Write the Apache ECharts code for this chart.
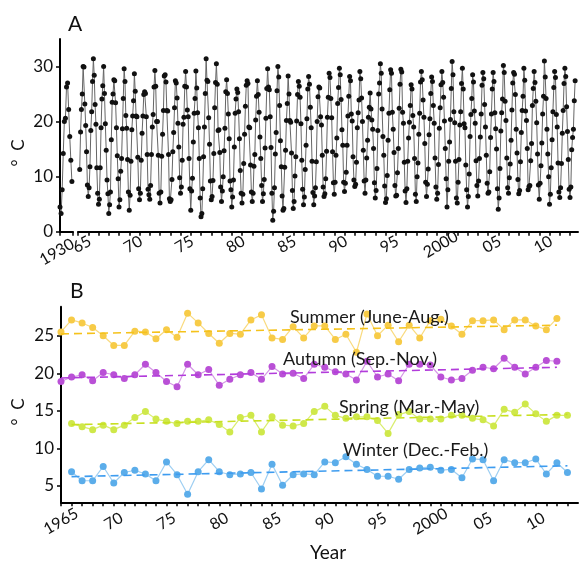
<!DOCTYPE html>
<html><head><meta charset="utf-8">
<script src="https://cdn.jsdelivr.net/npm/echarts@6/dist/echarts.min.js"></script>
<style>html,body{margin:0;padding:0;background:#fff}#c{width:581px;height:563px}</style>
</head><body><div id="c"></div>
<script>
// ---------- Panel A: monthly mean temperature ----------
const monthly1930Year = 1930;
const monthly1930 = [4.5, 3.3, 7.6, 14.2, 20.0, 20.6, 26.3, 27.0, 22.2, 17.3, 13.0, 9.1];

const monthlyStartYear = 1965;
const monthlyStartMonth = 3; // March 1965
const monthlyTemp = [
  11.3, 18.1, 22.2, 25.0, 30.0, 29.9, 23.2, 19.3, 14.5, 8.5,
  6.4, 8.0, 11.8, 18.4, 21.8, 27.3, 31.4, 28.4, 23.1, 19.5, 11.6, 7.0,
  5.0, 5.9, 11.6, 18.9, 24.1, 26.5, 30.0, 25.1, 19.6, 14.8, 9.4, 6.9,
  3.3, 4.9, 7.2, 16.7, 23.5, 25.0, 27.6, 27.4, 23.4, 18.9, 13.8, 9.6,
  4.5, 5.8, 11.0, 13.3, 18.7, 24.2, 29.6, 27.3, 21.1, 18.8, 13.1, 7.2,
  3.9, 6.6, 12.8, 18.5, 21.0, 23.8, 28.7, 25.5, 21.0, 20.9, 13.5, 7.8,
  5.8, 7.0, 13.0, 17.9, 21.0, 24.9, 25.4, 25.1, 20.9, 14.0, 7.7, 6.7,
  5.9, 8.4, 14.0, 19.0, 21.3, 26.3, 29.3, 26.4, 20.0, 20.0, 13.9, 7.0,
  5.2, 7.2, 13.7, 17.7, 22.0, 28.3, 28.5, 27.2, 22.0, 21.9, 14.0, 6.0,
  5.5, 5.8, 9.5, 14.5, 18.0, 22.5, 27.4, 27.0, 24.3, 19.7, 15.4, 9.8,
  7.0, 8.1, 13.0, 19.5, 20.8, 26.4, 29.1, 26.3, 22.1, 20.9, 13.3, 7.8,
  3.9, 7.4, 9.7, 16.3, 21.5, 24.2, 29.2, 26.1, 21.6, 18.9, 13.3, 6.1,
  2.7, 3.3, 7.8, 13.6, 19.0, 25.1, 31.4, 27.5, 27.3, 20.7, 15.9, 9.2,
  5.8, 6.4, 9.3, 14.2, 22.5, 27.1, 30.5, 26.8, 18.4, 18.5, 14.4, 8.1,
  5.5, 7.4, 10.0, 14.7, 18.8, 25.4, 27.6, 25.1, 21.4, 16.9, 9.2, 7.6,
  4.5, 6.3, 9.4, 15.4, 21.5, 24.1, 25.9, 25.3, 21.8, 16.9, 11.1, 7.0,
  5.2, 6.8, 12.4, 17.7, 22.8, 26.6, 27.4, 26.9, 19.0, 18.9, 12.1, 7.2,
  5.5, 7.0, 11.9, 14.0, 20.3, 24.6, 27.4, 24.9, 21.7, 17.2, 13.3, 8.4,
  5.5, 6.9, 9.5, 15.2, 20.6, 26.0, 29.6, 26.3, 25.8, 20.9, 15.3, 7.0,
  2.1, 3.7, 8.0, 14.1, 18.0, 25.6, 30.0, 28.1, 22.9, 16.5, 11.8, 6.5,
  3.9, 4.2, 11.7, 14.8, 20.2, 23.3, 28.3, 25.0, 20.2, 19.9, 14.3, 7.5,
  4.2, 5.5, 10.1, 13.6, 20.1, 24.9, 27.3, 26.4, 24.4, 19.6, 13.0, 7.7,
  4.9, 6.3, 11.3, 15.7, 20.5, 25.9, 28.2, 26.8, 22.6, 18.9, 12.8, 7.1,
  4.9, 6.5, 8.0, 12.7, 20.0, 24.5, 26.3, 26.1, 20.9, 19.4, 13.9, 8.1,
  6.4, 6.9, 9.6, 14.6, 20.8, 24.4, 28.8, 28.0, 24.2, 20.7, 14.5, 8.9,
  6.8, 9.0, 13.9, 17.0, 23.3, 26.2, 29.7, 28.5, 24.0, 18.5, 15.7, 9.0,
  7.3, 8.8, 10.8, 15.7, 21.0, 24.6, 28.2, 27.4, 21.4, 20.1, 13.6, 9.4,
  8.2, 8.6, 12.6, 18.9, 21.6, 23.9, 29.1, 27.8, 24.3, 20.0, 14.8, 9.2,
  7.0, 9.4, 13.4, 16.6, 20.8, 22.6, 25.2, 22.3, 20.3, 18.6, 15.1, 8.9,
  6.1, 7.5, 11.5, 18.4, 25.0, 27.0, 30.5, 28.8, 22.3, 17.3, 13.9, 8.3,
  5.3, 6.0, 10.2, 16.6, 21.5, 25.8, 29.4, 28.8, 21.7, 18.6, 14.4, 8.4,
  6.5, 6.6, 10.7, 15.1, 22.4, 26.8, 29.5, 29.0, 21.7, 19.7, 12.6, 7.4,
  5.3, 7.8, 12.8, 17.0, 19.9, 22.9, 26.7, 25.9, 21.1, 19.0, 13.3, 6.8,
  5.5, 10.0, 12.5, 17.7, 21.5, 27.2, 29.1, 27.6, 23.9, 20.8, 16.0, 9.0,
  6.4, 8.6, 11.4, 17.6, 20.5, 25.1, 28.1, 27.3, 22.9, 19.7, 13.4, 8.1,
  5.9, 7.0, 12.2, 18.8, 22.5, 26.7, 29.1, 27.1, 24.4, 20.1, 15.1, 9.6,
  4.5, 7.6, 12.8, 16.3, 20.4, 26.0, 30.9, 28.5, 21.8, 19.8, 12.8, 6.1,
  5.2, 9.0, 13.1, 19.4, 21.8, 26.9, 29.7, 25.9, 19.6, 18.9, 12.1, 7.6,
  4.5, 6.4, 10.5, 17.3, 21.3, 24.2, 28.5, 27.2, 21.9, 19.7, 12.9, 8.4,
  6.5, 9.2, 13.3, 17.2, 21.4, 26.6, 28.9, 27.8, 23.1, 19.0, 13.9, 8.8,
  7.0, 7.2, 10.9, 17.1, 21.4, 25.9, 28.9, 27.3, 21.6, 18.7, 15.0, 7.8,
  4.1, 6.1, 11.5, 18.3, 21.6, 24.1, 30.2, 28.9, 23.7, 20.2, 13.4, 8.0,
  7.0, 9.8, 12.3, 16.6, 22.1, 27.0, 28.9, 28.6, 24.9, 18.6, 14.3, 9.5,
  6.9, 7.5, 12.7, 18.0, 22.0, 24.6, 29.7, 27.5, 21.9, 20.2, 15.1, 7.6,
  8.2, 8.4, 12.9, 16.0, 22.9, 26.0, 29.1, 27.1, 23.7, 19.8, 14.1, 8.5,
  5.9, 8.8, 12.0, 16.1, 21.4, 24.6, 31.0, 28.1, 24.2, 18.6, 14.1, 10.0,
  5.0, 6.8, 11.6, 16.7, 21.8, 26.2, 29.1, 28.0, 21.3, 19.0, 12.5, 7.2,
  6.2, 8.0, 12.4, 17.9, 22.0, 26.9, 29.7, 28.2, 22.7, 18.2, 13.1, 7.7,
  6.2, 8.1, 14.9, 17.1, 18.6, 23.8, 27.4
];

// ---------- Panel B: seasonal means ----------
const summerStart = 1965;
const summer = [25.5, 27.1, 26.7, 26.1, 25.0, 23.7, 23.7, 25.6, 25.5, 24.6, 25.8, 24.8, 28.0, 26.7, 25.3, 24.0,
  25.3, 25.2, 27.1, 27.8, 24.7, 24.5, 26.2, 24.7, 26.3, 26.3, 24.5, 25.2, 22.8, 27.9, 25.0, 26.4,
  24.2, 26.4, 24.7, 27.0, 27.2, 26.3, 25.2, 27.0, 27.0, 27.1, 25.8, 27.1, 27.1, 26.3, 25.8, 27.3];
const autumnStart = 1965;
const autumn = [18.9, 19.5, 19.8, 19.0, 20.1, 19.8, 19.3, 19.8, 21.2, 20.1, 18.9, 18.2, 21.2, 19.8, 20.5, 18.4,
  19.2, 19.8, 20.1, 19.2, 20.9, 19.9, 20.0, 19.3, 21.2, 20.8, 20.2, 19.9, 19.1, 21.6, 19.5, 19.9,
  19.0, 21.2, 21.2, 21.1, 19.5, 19.1, 19.3, 20.4, 20.8, 20.6, 22.0, 20.8, 19.9, 20.8, 21.7, 21.6];
const springStart = 1966;
const spring = [13.3, 12.9, 12.5, 13.1, 12.5, 13.1, 14.1, 14.9, 13.9, 13.6, 13.3, 13.6, 13.6, 13.8, 13.2, 12.2,
  14.1, 14.4, 12.2, 14.2, 13.1, 13.0, 13.3, 14.9, 15.6, 14.4, 14.0, 14.2, 14.2, 13.7, 12.0, 14.5,
  14.9, 13.9, 13.9, 13.9, 14.4, 14.4, 14.0, 13.8, 13.0, 15.2, 14.8, 15.9, 14.6, 13.6, 14.4, 14.4];
const winterStart = 1966;
const winter = [6.9, 5.7, 5.7, 7.6, 5.4, 6.8, 7.1, 6.6, 5.7, 8.2, 6.5, 3.9, 6.9, 8.5, 6.9, 6.5,
  6.6, 6.8, 4.6, 7.9, 5.1, 6.5, 6.6, 6.5, 8.2, 8.1, 8.9, 7.9, 7.2, 6.3, 6.3, 5.9,
  7.2, 7.4, 7.5, 7.1, 7.2, 6.1, 8.6, 8.5, 5.7, 8.5, 8.1, 8.1, 8.6, 6.6, 8.1, 6.8];
const seasonNames = ['Summer (June-Aug.)', 'Autumn (Sep.-Nov.)', 'Spring (Mar.-May)', 'Winter (Dec.-Feb.)'];

// ---------- tick labels ----------
const yTicksA = [0, 10, 20, 30];
const yTicksB = [5, 10, 15, 20, 25];
const xLabelPos1930 = [1931];
const xLabels1930 = ['1930'];
const xLabelTicks = [1965, 1970, 1975, 1980, 1985, 1990, 1995, 2000, 2005, 2010];
const xLabelsA = ['65', '70', '75', '80', '85', '90', '95', '2000', '05', '10'];
const xLabelsB = ['1965', '70', '75', '80', '85', '90', '95', '2000', '05', '10'];
const yearTicks = [];
for (let y = 1965; y <= 2013; y++) yearTicks.push(y);

// ---------- build ----------
const FONT = 'Lato';
const data1930 = monthly1930.map((v, i) => [monthly1930Year + i / 12, v]);
const dataMonthly = monthlyTemp.map((v, i) => {
  const idx = monthlyStartMonth - 1 + i;
  return [monthlyStartYear + Math.floor(idx / 12) + (idx % 12) / 12, v];
});
function toPts(arr, start) { return arr.map((v, i) => [start + i, v]); }
function trend(pts) {
  const n = pts.length;
  let sx = 0, sy = 0, sxx = 0, sxy = 0;
  pts.forEach(p => { sx += p[0]; sy += p[1]; sxx += p[0] * p[0]; sxy += p[0] * p[1]; });
  const b = (n * sxy - sx * sy) / (n * sxx - sx * sx);
  const a = (sy - b * sx) / n;
  const x0 = pts[0][0], x1 = pts[n - 1][0];
  return [[x0, a + b * x0], [x1, a + b * x1]];
}
const seasons = [
  { pts: toPts(summer, summerStart), color: '#F7CB47', line: 'rgba(247,203,71,0.7)', tcolor: '#F5C21B' },
  { pts: toPts(autumn, autumnStart), color: '#B950D6', line: 'rgba(185,80,214,0.6)', tcolor: '#B23CDB' },
  { pts: toPts(spring, springStart), color: '#CFE84A', line: 'rgba(207,232,74,0.8)', tcolor: '#C8E021' },
  { pts: toPts(winter, winterStart), color: '#5BADEA', line: 'rgba(91,173,234,0.6)', tcolor: '#3D9CF0' }
];

const axisLineStyle = { show: true, lineStyle: { color: '#000', width: 2 } };
const tickStyle = { show: true, length: 4, lineStyle: { color: '#000', width: 1.5 } };
const labelStyle = { color: '#111', fontFamily: FONT, fontSize: 16 };
function fmtFrom(ticks, labels) { return v => { const i = ticks.findIndex(t => Math.abs(t - v) < 1e-6); return i >= 0 ? labels[i] : ''; }; }

const series = [
  { type: 'line', xAxisIndex: 0, yAxisIndex: 0, data: data1930, symbol: 'circle', symbolSize: 5,
    itemStyle: { color: '#111' }, lineStyle: { color: '#666', width: 1 }, animation: false },
  { type: 'line', xAxisIndex: 1, yAxisIndex: 1, data: dataMonthly, symbol: 'circle', symbolSize: 5,
    itemStyle: { color: '#111' }, lineStyle: { color: '#666', width: 1 }, animation: false }
];
seasons.forEach(s => {
  series.push({ type: 'line', xAxisIndex: 2, yAxisIndex: 2, data: s.pts, symbol: 'circle', symbolSize: 7,
    itemStyle: { color: s.color }, lineStyle: { color: s.line, width: 1.2 }, animation: false, z: 2 });
  series.push({ type: 'line', xAxisIndex: 2, yAxisIndex: 2, data: trend(s.pts), showSymbol: false, symbol: 'none',
    lineStyle: { color: s.tcolor, width: 1.6, type: [8, 5] }, animation: false, z: 3 });
});

const chart = echarts.init(document.getElementById('c'), null, { renderer: 'canvas' });
chart.setOption({
  animation: false,
  backgroundColor: '#fff',
  grid: [
    { left: 60, width: 13, top: 39, height: 192.7 },
    { left: 78, width: 500, top: 39, height: 192.7 },
    { left: 61, width: 517, top: 306.7, height: 195.6 }
  ],
  xAxis: [
    { gridIndex: 0, type: 'value', min: 1930, max: 1931, axisLine: axisLineStyle,
      axisTick: Object.assign({}, tickStyle, { customValues: [1930, 1931] }),
      axisLabel: Object.assign({}, labelStyle, { rotate: 30, align: 'right', verticalAlign: 'middle', customValues: xLabelPos1930, formatter: fmtFrom(xLabelPos1930, xLabels1930), margin: 11 }),
      splitLine: { show: false } },
    { gridIndex: 1, type: 'value', min: 1965, max: 2013.78, axisLine: axisLineStyle,
      axisTick: Object.assign({}, tickStyle, { customValues: yearTicks }),
      axisLabel: Object.assign({}, labelStyle, { rotate: 30, align: 'center', verticalAlign: 'middle', padding: [0, 0, 0, 9], customValues: xLabelTicks, formatter: fmtFrom(xLabelTicks, xLabelsA), margin: 15 }),
      splitLine: { show: false } },
    { gridIndex: 2, type: 'value', min: 1965, max: 2014, axisLine: axisLineStyle,
      axisTick: Object.assign({}, tickStyle, { customValues: yearTicks }),
      axisLabel: Object.assign({}, labelStyle, { rotate: 30, align: 'center', verticalAlign: 'middle', customValues: xLabelTicks, formatter: fmtFrom(xLabelTicks, xLabelsB), margin: 19 }),
      splitLine: { show: false } }
  ],
  yAxis: [
    { gridIndex: 0, type: 'value', min: 0, max: 35, axisLine: axisLineStyle,
      axisTick: Object.assign({}, tickStyle, { customValues: yTicksA }),
      axisLabel: Object.assign({}, labelStyle, { fontSize: 17, customValues: yTicksA, margin: 7 }),
      splitLine: { show: false } },
    { gridIndex: 1, type: 'value', min: 0, max: 35, show: false },
    { gridIndex: 2, type: 'value', min: 2.83, max: 28.86, axisLine: axisLineStyle,
      axisTick: Object.assign({}, tickStyle, { customValues: yTicksB }),
      axisLabel: Object.assign({}, labelStyle, { fontSize: 17, customValues: yTicksB, margin: 7 }),
      splitLine: { show: false } }
  ],
  series: series,
  graphic: [
    { type: 'text', x: 68, y: 24, style: { text: 'A', font: '21px Lato', fill: '#111', textVerticalAlign: 'middle' } },
    { type: 'text', x: 70, y: 291, style: { text: 'B', font: '21px Lato', fill: '#111', textVerticalAlign: 'middle' } },
    { type: 'text', x: 19, y: 153, rotation: Math.PI / 2, style: { text: '°  C', font: '17px Lato', fill: '#111', textAlign: 'center', textVerticalAlign: 'middle' } },
    { type: 'text', x: 19, y: 412, rotation: Math.PI / 2, style: { text: '°  C', font: '17px Lato', fill: '#111', textAlign: 'center', textVerticalAlign: 'middle' } },
    { type: 'text', x: 328, y: 553, style: { text: 'Year', font: '19px Lato', fill: '#111', textAlign: 'center', textVerticalAlign: 'middle' } },
    { type: 'text', x: 290, y: 317, z: 100, style: { text: seasonNames[0], font: '18px Lato', fill: '#1a1a1a', textVerticalAlign: 'middle' } },
    { type: 'text', x: 283, y: 359, z: 100, style: { text: seasonNames[1], font: '18px Lato', fill: '#1a1a1a', textVerticalAlign: 'middle' } },
    { type: 'text', x: 339, y: 407, z: 100, style: { text: seasonNames[2], font: '18px Lato', fill: '#1a1a1a', textVerticalAlign: 'middle' } },
    { type: 'text', x: 343, y: 450, z: 100, style: { text: seasonNames[3], font: '18px Lato', fill: '#1a1a1a', textVerticalAlign: 'middle' } }
  ]
});
</script></body></html>
